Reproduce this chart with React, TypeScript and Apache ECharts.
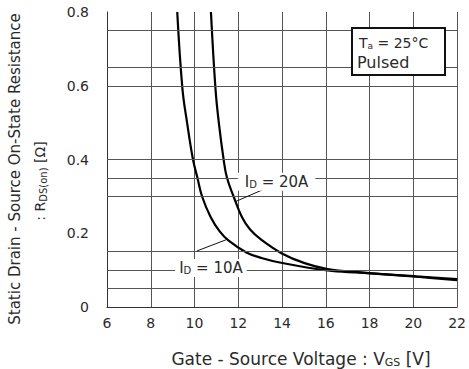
import React, { useEffect, useRef } from "react";
import * as echarts from "echarts";

// Curve data
const vgs10 = [9.21, 9.45, 9.66, 9.93, 10.13, 10.35, 10.73, 11.15, 11.56, 12.37, 13.06, 13.95, 16.08, 17.57, 20.15, 22.0];
const rds10 = [0.8, 0.59, 0.5, 0.4, 0.351, 0.299, 0.245, 0.205, 0.18, 0.148, 0.133, 0.12, 0.099, 0.093, 0.082, 0.073];
const vgs20 = [10.75, 10.96, 11.11, 11.33, 11.48, 11.79, 12.16, 12.54, 13.06, 13.97, 15.03, 16.08, 17.57, 20.15, 22.0];
const rds20 = [0.8, 0.59, 0.5, 0.4, 0.351, 0.299, 0.245, 0.21, 0.182, 0.146, 0.119, 0.103, 0.094, 0.083, 0.076];

// Axis ticks
const xMin = 6;
const xMax = 22;
const xStep = 2;
const yMin = 0;
const yMax = 0.8;
const yStep = 0.2;

// Horizontal grid lines drawn in the reference
const hGridValues = [0.05, 0.1, 0.15, 0.3, 0.35, 0.4, 0.6, 0.65, 0.75];

// Annotation anchors (data coordinates)
const label20Pos = [13.75, 0.34];
const label10Pos = [10.75, 0.106];
const leader20 = [[11.88, 0.286], [13.23, 0.321]];
const leader10 = [[10.11, 0.152], [11.47, 0.183]];

const FONT = "'DejaVu Sans', 'Liberation Sans', sans-serif";
const TXT = "#2a2a2a";

export default function App() {
  const ref = useRef<HTMLDivElement>(null);

  useEffect(() => {
    if (!ref.current) return;
    const chart = echarts.init(ref.current, null, { renderer: "svg" });
    const sub = { fontSize: 10, fontFamily: FONT, color: TXT, padding: [6, 0, 0, 0] };

    chart.setOption({
      animation: false,
      backgroundColor: "#ffffff",
      grid: { left: 107, right: 8, top: 12, bottom: 62 },
      xAxis: {
        type: "value",
        min: xMin,
        max: xMax,
        interval: xStep,
        axisLine: { show: true, lineStyle: { color: "#333", width: 1 } },
        axisTick: { show: false },
        axisLabel: { color: TXT, fontFamily: FONT, fontSize: 14, margin: 9 },
        splitLine: { show: true, lineStyle: { color: "#555", width: 1 } },
      },
      yAxis: {
        type: "value",
        min: yMin,
        max: yMax,
        interval: yStep,
        axisLine: { show: true, lineStyle: { color: "#333", width: 1 } },
        axisTick: { show: false },
        axisLabel: { color: TXT, fontFamily: FONT, fontSize: 14, margin: 18 },
        splitLine: { show: false },
      },
      series: [
        {
          type: "line",
          data: [],
          z: 1,
          silent: true,
          markLine: {
            silent: true,
            symbol: ["none", "none"],
            label: { show: false },
            lineStyle: { color: "#555", width: 1, type: "solid" },
            data: hGridValues.map((v) => ({ yAxis: v })),
          },
        },
        {
          name: "ID=10A",
          type: "line",
          z: 3,
          data: vgs10.map((x, i) => [x, rds10[i]]),
          smooth: 0.4,
          showSymbol: false,
          lineStyle: { color: "#000", width: 2.2 },
          markLine: {
            silent: true,
            symbol: ["none", "none"],
            label: { show: false },
            lineStyle: { color: "#111", width: 1, type: "solid" },
            data: [
              [{ coord: leader10[0] }, { coord: leader10[1] }],
              [{ coord: leader20[0] }, { coord: leader20[1] }],
            ],
          },
          markPoint: {
            silent: true,
            symbol: "rect",
            symbolSize: 0,
            data: [
              {
                coord: label10Pos,
                label: {
                  show: true,
                  position: "inside",
                  formatter: "{n|I}{s|D}{n| = 10A}",
                  backgroundColor: "#fff",
                  padding: [1, 4, 1, 4],
                  rich: { n: { fontSize: 15, fontFamily: FONT, color: TXT }, s: sub },
                },
              },
              {
                coord: label20Pos,
                label: {
                  show: true,
                  position: "inside",
                  formatter: "{n|I}{s|D}{n| = 20A}",
                  backgroundColor: "#fff",
                  padding: [1, 7, 1, 7],
                  rich: { n: { fontSize: 15, fontFamily: FONT, color: TXT }, s: sub },
                },
              },
            ],
          },
        },
        {
          name: "ID=20A",
          type: "line",
          z: 3,
          data: vgs20.map((x, i) => [x, rds20[i]]),
          smooth: 0.4,
          showSymbol: false,
          lineStyle: { color: "#000", width: 2.2 },
        },
      ],
      graphic: [
        {
          type: "rect",
          z: 100,
          shape: { x: 352, y: 28, width: 93, height: 47 },
          style: { fill: "#fff", stroke: "#111", lineWidth: 2 },
        },
        {
          type: "text",
          z: 101,
          x: 359,
          y: 43,
          style: {
            text: "{n|T}{s|a}{n| = 25°C}",
            verticalAlign: "middle",
            rich: { n: { fontSize: 14, fontFamily: FONT, fill: TXT }, s: { fontSize: 9, fontFamily: FONT, fill: TXT, padding: [6, 0, 0, 0] } },
          },
        },
        {
          type: "text",
          z: 101,
          x: 357,
          y: 62,
          style: { text: "Pulsed", font: `16px ${FONT}`, fill: TXT, verticalAlign: "middle" },
        },
        {
          type: "text",
          z: 101,
          x: 15,
          y: 169,
          rotation: Math.PI / 2,
          style: {
            text: "Static Drain - Source On-State Resistance",
            font: `15px ${FONT}`,
            fill: TXT,
            align: "center",
            verticalAlign: "middle",
          },
        },
        {
          type: "text",
          z: 101,
          x: 40,
          y: 181,
          rotation: Math.PI / 2,
          style: {
            text: "{n|: R}{s|DS(on)}{n| [Ω]}",
            align: "center",
            verticalAlign: "middle",
            rich: { n: { fontSize: 14, fontFamily: FONT, fill: TXT }, s: { fontSize: 10, fontFamily: FONT, fill: TXT, padding: [6, 0, 0, 0] } },
          },
        },
        {
          type: "text",
          z: 101,
          x: 301,
          y: 359,
          style: {
            text: "{n|Gate - Source Voltage : V}{s|GS}{n| [V]}",
            align: "center",
            verticalAlign: "middle",
            rich: { n: { fontSize: 17, fontFamily: FONT, fill: TXT }, s: { fontSize: 11, fontFamily: FONT, fill: TXT, padding: [7, 0, 0, 0] } },
          },
        },
      ],
    });
    return () => chart.dispose();
  }, []);

  return (
    <div
      ref={ref}
      style={{ position: "fixed", left: 0, top: 0, width: 469, height: 369 }}
    />
  );
}
